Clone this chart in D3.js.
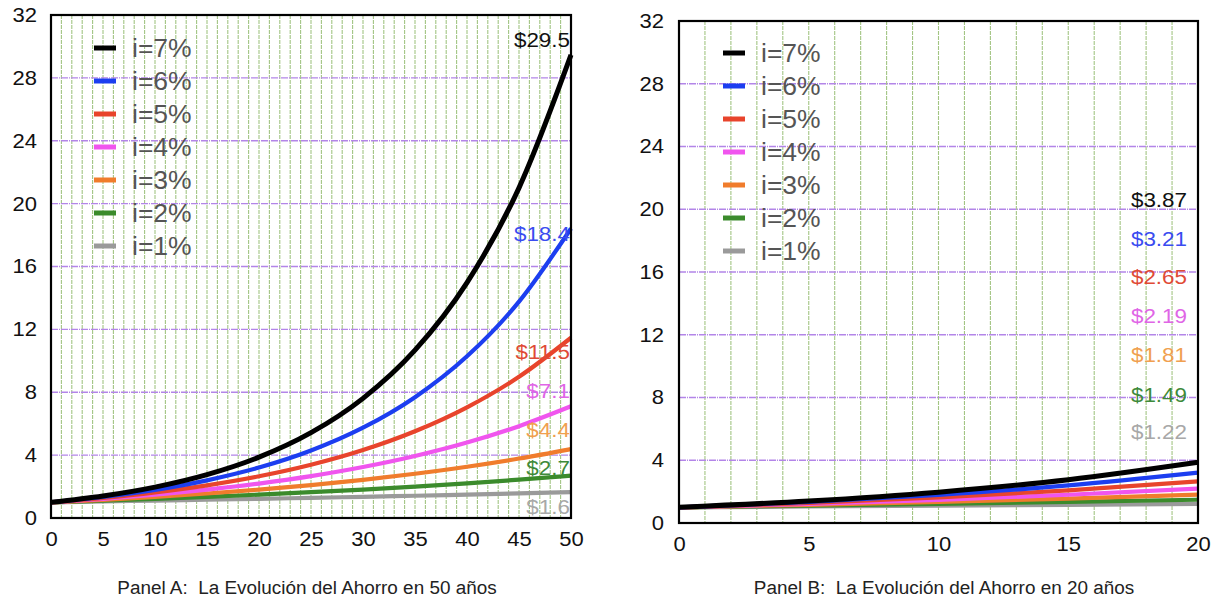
<!DOCTYPE html>
<html><head><meta charset="utf-8">
<script src="https://cdn.jsdelivr.net/npm/d3@7"></script>
<style>
html,body{margin:0;padding:0;background:#fff;}
svg{display:block;font-family:"Liberation Sans",Arial,Helvetica,sans-serif;}
svg text{white-space:pre;}
</style></head>
<body>
<svg id="chart" width="1222" height="600"></svg>
<script>
// ---- data ----
const years = [0, 5, 10, 15, 20, 25, 30, 35, 40, 45, 50];
const seriesNames = ["i=7%", "i=6%", "i=5%", "i=4%", "i=3%", "i=2%", "i=1%"];
const s7 = [1, 1.403, 1.967, 2.759, 3.870, 5.427, 7.612, 10.677, 14.975, 21.003, 29.457];
const s6 = [1, 1.338, 1.791, 2.397, 3.207, 4.292, 5.743, 7.686, 10.286, 13.765, 18.420];
const s5 = [1, 1.276, 1.629, 2.079, 2.653, 3.386, 4.322, 5.516, 7.040, 8.985, 11.467];
const s4 = [1, 1.217, 1.480, 1.801, 2.191, 2.666, 3.243, 3.946, 4.801, 5.841, 7.107];
const s3 = [1, 1.159, 1.344, 1.558, 1.806, 2.094, 2.427, 2.814, 3.262, 3.782, 4.384];
const s2 = [1, 1.104, 1.219, 1.346, 1.486, 1.641, 1.811, 2.000, 2.208, 2.438, 2.692];
const s1 = [1, 1.051, 1.105, 1.161, 1.220, 1.282, 1.348, 1.417, 1.489, 1.565, 1.645];
const allSeries = [s7, s6, s5, s4, s3, s2, s1];
const labelsA = ["$29.5", "$18.4", "$11.5", "$7.1", "$4.4", "$2.7", "$1.6"];
const labelsB = ["$3.87", "$3.21", "$2.65", "$2.19", "$1.81", "$1.49", "$1.22"];
const labelValA = [30.4, 18.1, 10.6, 8.1, 5.6, 3.2, 0.7];
const labelValB = [20.6, 18.1, 15.7, 13.2, 10.7, 8.2, 5.8];
const yTicks = [0, 4, 8, 12, 16, 20, 24, 28, 32];
const xTicksA = [0, 5, 10, 15, 20, 25, 30, 35, 40, 45, 50];
const xTicksB = [0, 5, 10, 15, 20];
const captionA = "Panel A:  La Evolución del Ahorro en 50 años";
const captionB = "Panel B:  La Evolución del Ahorro en 20 años";

const lineColors = ["#000000", "#1c3ef0", "#e8442c", "#f055ee", "#f07c2c", "#3b8b2c", "#9a9a9a"];
const labelColors = ["#111111", "#3a4cf0", "#e04a36", "#e066e6", "#f0a050", "#3e8a3a", "#a8a8a8"];

const svg = d3.select("#chart");

function stretch(sel, f) {
  sel.each(function () {
    const w = this.getComputedTextLength();
    d3.select(this).attr("textLength", w * f).attr("lengthAdjust", "spacingAndGlyphs");
  });
}

function panel(cfg) {
  const x = d3.scaleLinear().domain([0, cfg.maxYear]).range([cfg.left, cfg.right]);
  const y = d3.scaleLinear().domain([0, 32]).range([cfg.bottom, cfg.top]);
  const g = svg.append("g");

  // vertical green gridlines every year
  const yrs = d3.range(1, cfg.maxYear);
  g.append("g").selectAll("line").data(yrs).join("line")
    .attr("x1", d => x(d)).attr("x2", d => x(d))
    .attr("y1", cfg.top).attr("y2", cfg.bottom)
    .attr("stroke", "#a3c584").attr("stroke-width", 1.1)
    .attr("stroke-dasharray", "4,1");

  // horizontal purple gridlines
  g.append("g").selectAll("line").data(yTicks.filter(v => v > 0 && v < 32)).join("line")
    .attr("x1", cfg.left).attr("x2", cfg.right)
    .attr("y1", d => y(d)).attr("y2", d => y(d))
    .attr("stroke", "#b385e8").attr("stroke-width", 1.3)
    .attr("stroke-dasharray", "7,1,1,1");

  // axes (labels only)
  const xa = g.append("g").attr("transform", `translate(0,${cfg.bottom})`)
    .call(d3.axisBottom(x).tickValues(cfg.xTicks).tickSize(0).tickPadding(cfg.xPad).tickFormat(d3.format("d")));
  xa.select(".domain").remove();
  xa.selectAll("text").attr("font-size", 20).attr("fill", "#111").attr("font-family", "Liberation Sans, Arial, sans-serif");
  stretch(xa.selectAll("text"), 1.1);

  const ya = g.append("g").attr("transform", `translate(${cfg.left},0)`)
    .call(d3.axisLeft(y).tickValues(yTicks).tickSize(0).tickPadding(cfg.yPad).tickFormat(d3.format("d")));
  ya.select(".domain").remove();
  ya.selectAll("text").attr("font-size", 20).attr("fill", "#111").attr("font-family", "Liberation Sans, Arial, sans-serif");
  stretch(ya.selectAll("text"), 1.1);

  // curves
  const line = d3.line().x(d => x(d[0])).y(d => y(d[1])).curve(d3.curveMonotoneX);
  const order = d3.range(allSeries.length).reverse();
  const cg = g.append("g");
  order.forEach(i => {
    const pts = years.map((yr, k) => [yr, allSeries[i][k]]).filter(p => p[0] <= cfg.maxYear);
    cg.append("path").datum(pts).attr("d", line)
      .attr("fill", "none").attr("stroke", lineColors[i])
      .attr("stroke-width", i === 0 ? 5 : 4.2).attr("stroke-linecap", "butt");
  });

  // frame
  g.append("rect").attr("x", cfg.left).attr("y", cfg.top)
    .attr("width", cfg.right - cfg.left).attr("height", cfg.bottom - cfg.top)
    .attr("fill", "none").attr("stroke", "#000").attr("stroke-width", 2.2);

  // legend
  const lg = g.append("g");
  seriesNames.forEach((nm, i) => {
    const ly = cfg.legTop + i * 33;
    lg.append("line").attr("x1", cfg.legX).attr("x2", cfg.legX + 22)
      .attr("y1", ly).attr("y2", ly).attr("stroke", lineColors[i]).attr("stroke-width", 5);
    const t = lg.append("text").attr("x", cfg.legX + 38).attr("y", ly)
      .attr("dy", "0.36em").attr("font-size", 25).attr("fill", "#555").text(nm);
    stretch(t, 1.06);
  });

  // end labels
  const vals = cfg.labelVals;
  cfg.labels.forEach((lab, i) => {
    const t = g.append("text").attr("x", cfg.labelX).attr("y", y(vals[i]))
      .attr("dy", "0.36em").attr("text-anchor", "end").attr("font-size", 20)
      .attr("fill", labelColors[i]).text(lab);
    stretch(t, 1.12);
  });

  // caption
  const c = g.append("text").attr("x", cfg.capX).attr("y", 588)
    .attr("dy", "0.36em").attr("text-anchor", "middle").attr("font-size", 18)
    .attr("fill", "#222").text(cfg.caption);
  stretch(c, 1.05);
}

panel({maxYear: 50, left: 51, right: 571, top: 15, bottom: 518, xTicks: xTicksA,
  xPad: 14, yPad: 14, legX: 94, legTop: 48, labels: labelsA, labelVals: labelValA,
  labelX: 570, caption: captionA, capX: 307});
panel({maxYear: 20, left: 679, right: 1198, top: 21, bottom: 523, xTicks: xTicksB,
  xPad: 14, yPad: 15, legX: 723, legTop: 53, labels: labelsB, labelVals: labelValB,
  labelX: 1187, caption: captionB, capX: 944});
</script>
</body></html>
